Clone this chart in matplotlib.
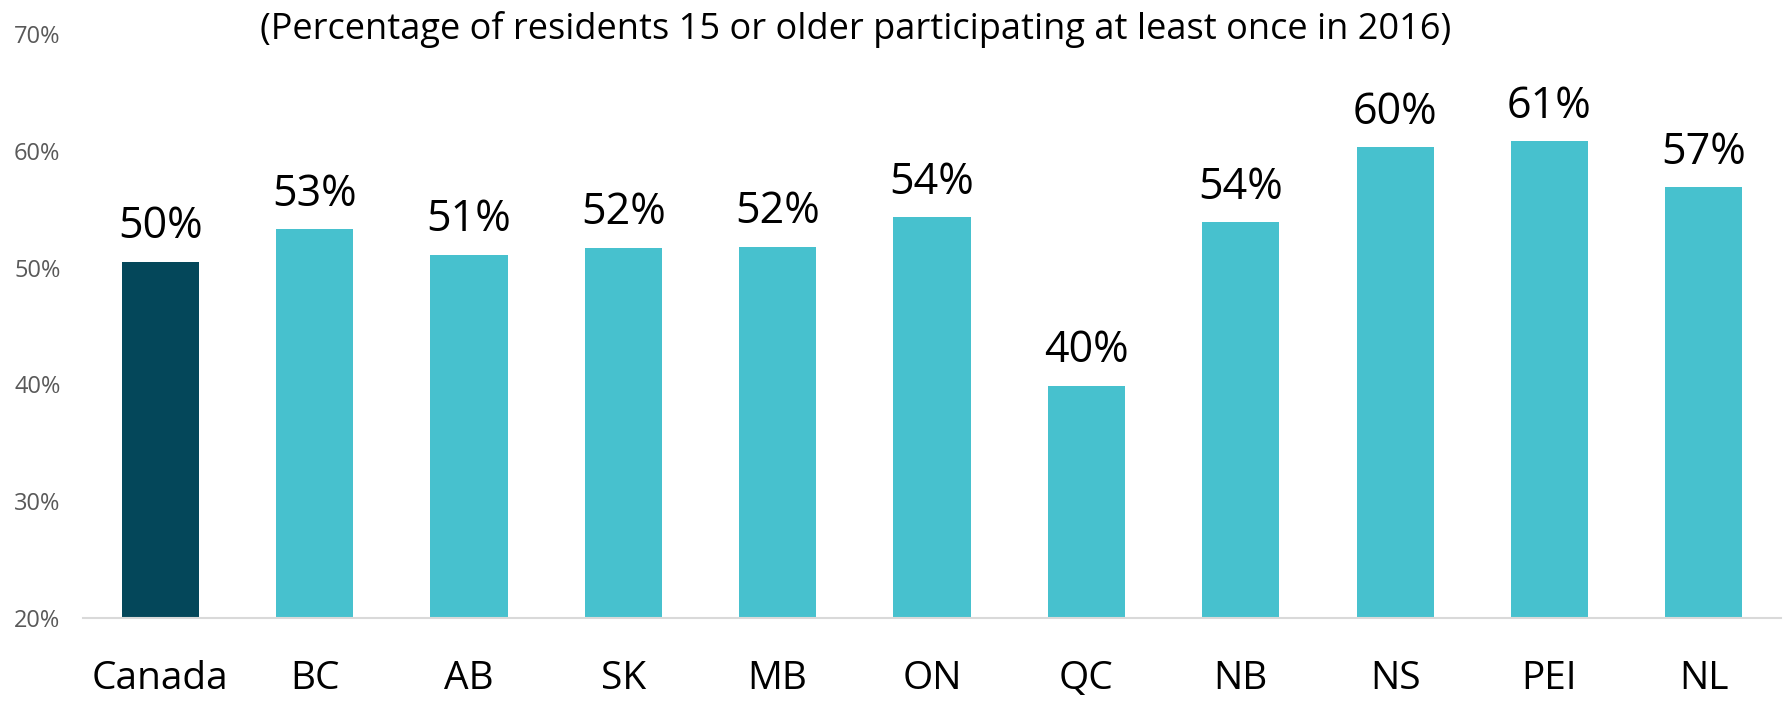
import matplotlib.pyplot as plt
import numpy as np

plt.rcParams['font.family'] = ['Open Sans', 'DejaVu Sans']

regions = ["Canada", "BC", "AB", "SK", "MB", "ON", "QC", "NB", "NS", "PEI", "NL"]
values = [50.5, 53.3, 51.1, 51.7, 51.8, 54.3, 39.9, 53.9, 60.3, 60.8, 56.9]
labels = ["50%", "53%", "51%", "52%", "52%", "54%", "40%", "54%", "60%", "61%", "57%"]
yticks = [20, 30, 40, 50, 60, 70]
title = "(Percentage of residents 15 or older participating at least once in 2016)"

dark = "#04475a"
light = "#47c1ce"
colors = [dark] + [light] * (len(regions) - 1)

fig = plt.figure(figsize=(17.85, 7.01), dpi=100)
ax = fig.add_axes([83 / 1785, 1 - 618 / 701, (1781 - 83) / 1785, (618 - 34) / 701])

x = np.arange(len(regions))
bars = ax.bar(x, np.array(values) - 20, bottom=20, width=0.5, color=colors, zorder=2)

for xi, v, lab in zip(x, values, labels):
    ax.annotate(lab, (xi, v), xytext=(0, 9), textcoords="offset points",
                ha="center", va="bottom", fontsize=31, color="black")

ax.set_xlim(-0.5, 10.5)
ax.set_ylim(20, 70)
ax.set_yticks(yticks)
ax.set_yticklabels([f"{t}%" for t in yticks], fontsize=17, color="#595959")
ax.set_xticks(x)
ax.set_xticklabels(regions, fontsize=28, color="black")
ax.tick_params(axis="y", length=0, pad=0)
ax.tick_params(axis="x", length=0, pad=30)
for lab in ax.get_yticklabels():
    lab.set_horizontalalignment("left")
    lab.set_x(-83 / 1698 + 14 / 1698)
for s in ["top", "right", "left"]:
    ax.spines[s].set_visible(False)
ax.spines["bottom"].set_color("#d9d9d9")
ax.spines["bottom"].set_linewidth(1.5)

fig.text(856 / 1785, 1 - 29 / 701, title, ha="center", va="center", fontsize=26, color="black")

fig.savefig("out.png", dpi=100)
